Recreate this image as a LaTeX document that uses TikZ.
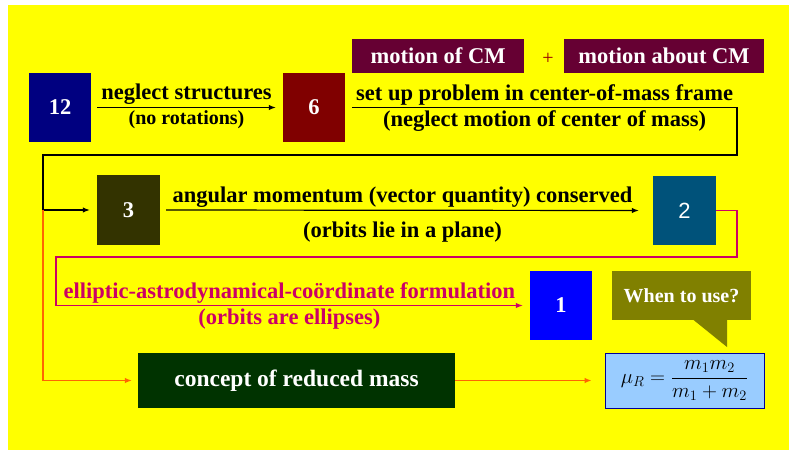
\documentclass[tikz,border=0pt]{standalone}
\usepackage{fontspec}
\usepackage{amsmath}
\setmainfont{Liberation Serif}
\setsansfont{Liberation Sans}
\usetikzlibrary{arrows.meta, positioning, calc}
\definecolor{cmyellow}{RGB}{255, 255, 0}
\definecolor{cmnavy}{RGB}{0, 0, 128}
\definecolor{cmmaroon}{RGB}{128, 0, 0}
\definecolor{cmwine}{RGB}{102, 0, 51}
\definecolor{cmdarkolive}{RGB}{51, 51, 0}
\definecolor{cmteal}{RGB}{0, 82, 122}
\definecolor{cmblue}{RGB}{0, 0, 255}
\definecolor{cmolive}{RGB}{128, 128, 0}
\definecolor{cmgreen}{RGB}{0, 51, 0}
\definecolor{cmsky}{RGB}{153, 204, 255}
\definecolor{cmdeep}{RGB}{0, 0, 153}
\definecolor{cmmagenta}{RGB}{204, 0, 102}
\definecolor{cmorange}{RGB}{255, 102, 0}
\definecolor{cmplus}{RGB}{153, 0, 0}

\begin{document}
\begin{tikzpicture}[x=1pt, y=-1pt, font=\bfseries\fontsize{22.5}{27}\selectfont,
  numbox/.style={minimum width=62pt, minimum height=69pt, text=white, inner sep=0pt},
  cmbox/.style={minimum height=34pt, text=white, inner sep=0pt, fill=cmwine},
  blkline/.style={line width=1.2pt, black},
  magline/.style={line width=1.2pt, cmmagenta},
  orgline/.style={line width=1.2pt, cmorange},
  tip/.style={-{Latex[length=7pt, width=5.5pt]}},
  small/.style={font=\bfseries\fontsize{20}{24}\selectfont}]

% --- Fondo ---
\useasboundingbox (0,0) rectangle (789,450);
\fill[white] (0,0) rectangle (789,450);
\fill[cmyellow] (8,5) rectangle (789,450);

% --- Fila superior ---
\node[numbox, fill=cmnavy] (n12) at (60,107.5) {12};
\node[numbox, fill=cmmaroon] (n6) at (314,107.5) {6};
\node[cmbox, minimum width=172pt] (cmof) at (438,56) {motion of CM};
\node[cmbox, minimum width=200pt] (cmabout) at (664,56) {motion about CM};
\node[text=cmplus, font=\fontsize{20}{24}\selectfont] (plus) at (548,59) {+};

\draw[blkline, tip] ([xshift=6pt]n12.east) --
  node[above, inner sep=2pt] (t1a) {neglect structures}
  node[below, inner sep=3pt, small] (t1b) {(no rotations)}
  ([xshift=-7pt]n6.west);

% Marco negro hacia el 3
\coordinate (c1) at (737,107.5);
\coordinate (c2) at (737,155);
\coordinate (c3) at (43,155);
\coordinate (c4) at (43,210);
\node[numbox, fill=cmdarkolive, minimum width=63pt, minimum height=70pt] (n3) at (128.5,210) {3};
\draw[blkline, tip] ([xshift=7pt]n6.east) --
  node[above, inner sep=2pt] (t2a) {set up problem in center-of-mass frame}
  node[below, inner sep=2.5pt] (t2b) {(neglect motion of center of mass)}
  (c1) -- (c2) -- (c3) -- (c4) -- ([xshift=-7pt]n3.west);

% --- Fila media ---
\node[numbox, fill=cmteal, minimum width=63pt, font=\sffamily\fontsize{22}{26}\selectfont] (n2) at (684.5,210.5) {2};
\draw[blkline, tip] ([xshift=6pt]n3.east) --
  node[above, inner sep=2pt] (t3a) {angular momentum (vector quantity) conserved}
  node[below, inner sep=1pt, yshift=-10pt] (t3b) {(orbits lie in a plane)}
  ([xshift=-14pt]n2.west);

% Marco magenta hacia el 1
\coordinate (c5) at (737,210.5);
\coordinate (c6) at (737,257);
\coordinate (c7) at (56,257);
\coordinate (c8) at (56,305.5);
\node[numbox, fill=cmblue] (n1) at (561,305.5) {1};
\draw[magline, tip] (n2.east) -- (c5) -- (c6) -- (c7) -- (c8) --
  node[above, inner sep=2pt, text=cmmagenta] (t4a) {elliptic-astrodynamical-coördinate formulation}
  node[below, inner sep=3pt, text=cmmagenta] (t4b) {(orbits are ellipses)}
  ([xshift=-7pt]n1.west);

% --- Fila inferior ---
\node[fill=cmolive, minimum width=139pt, minimum height=49pt, inner sep=0pt, text=white,
  font=\bfseries\fontsize{20}{24}\selectfont] (when) at (681.5,295.5) {When to use?};
\coordinate (wtip) at (727,347);
\fill[cmolive] ($(when.south east)+(-58,-0.5)$) -- ($(when.south east)+(-24,-0.5)$) -- (wtip) -- cycle;

\node[fill=cmgreen, minimum width=317pt, minimum height=55pt, inner sep=0pt, text=white,
  font=\bfseries\fontsize{23.5}{28}\selectfont] (nrm) at (296.5,380.5) {concept of reduced mass};
\node[draw=cmdeep, fill=cmsky, line width=1pt, minimum width=159pt, minimum height=55pt, inner sep=0pt,
  font=\fontsize{21}{25}\selectfont] (nmu) at (684.5,380.5) {$\mu_R = \dfrac{m_1 m_2}{m_1 + m_2}$};

\coordinate (c9) at (43,380.5);
\draw[orgline, tip] (c4) -- (c9) -- ([xshift=-6pt]nrm.west);
\draw[orgline, tip] (nrm.east) -- ([xshift=-13pt]nmu.west);

\end{tikzpicture}
\end{document}
